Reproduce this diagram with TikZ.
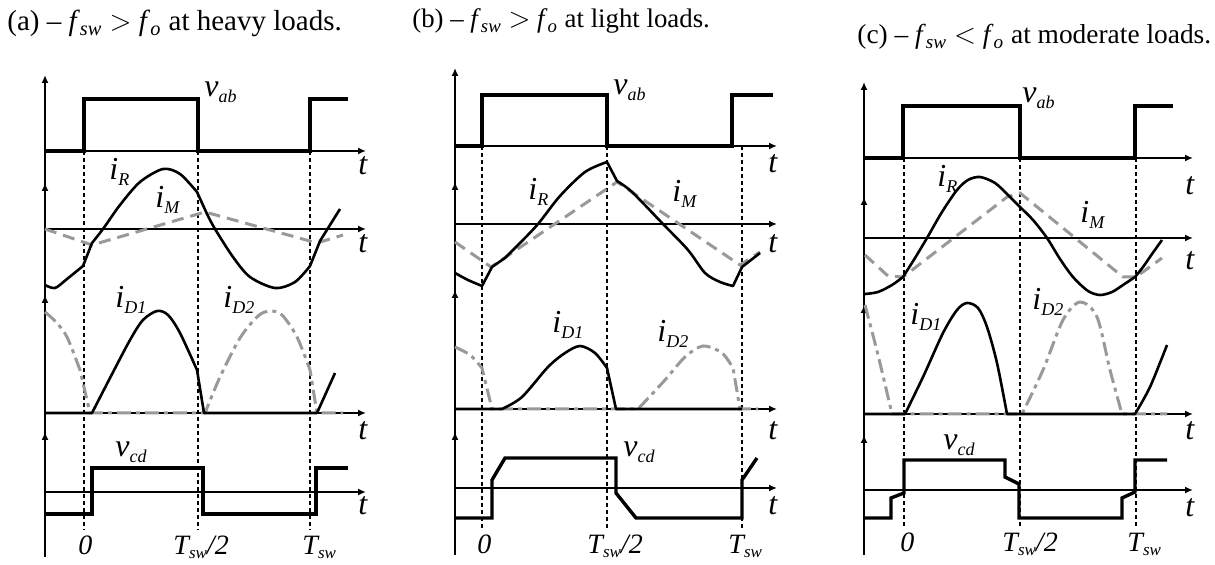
\documentclass[tikz,border=0pt]{standalone}
\usepackage{fontspec}
\setmainfont{Liberation Serif}
\usetikzlibrary{arrows.meta}
\definecolor{gry}{gray}{0.6}
\newcommand{\sg}[2]{\textit{#1}\raisebox{-3pt}{\fontsize{9}{10}\selectfont\textit{#2}}}
\newcommand{\tsw}{\textit{T}\kern-0.8pt\raisebox{-2pt}{\fontsize{8.5}{10}\selectfont\textit{sw}}}
\begin{document}
\begin{tikzpicture}[x=0.5pt,y=-0.5pt,
  ax/.style={line width=0.9pt,-{Latex[length=4pt,width=3.5pt]}},
  sq/.style={line width=1.7pt,line join=miter},
  cur/.style={line width=1.3pt,line join=round},
  mag/.style={line width=1.5pt,color=gry,dash pattern=on 6pt off 3.5pt},
  dd/.style={line width=1.5pt,color=gry,dash pattern=on 7pt off 2.5pt on 2pt off 2.5pt},
  grd/.style={line width=0.55pt,dash pattern=on 2pt off 1.5pt},
  lab/.style={font=\fontsize{16}{18}\selectfont,inner sep=0pt,anchor=base west},
  blab/.style={font=\fontsize{14}{16}\selectfont,inner sep=0pt,anchor=base west},
  ttl/.style={inner sep=0pt,anchor=base west}]
\useasboundingbox (0,0) rectangle (1215,565);
% ================= titles
\node[ttl,font=\fontsize{14.5}{17}\selectfont] (ta) at (7,31) {(a) -- \textit{f}\textsubscript{\textit{sw}} $>$ \textit{f}\textsubscript{\textit{o}} at heavy loads.};
\node[ttl,font=\fontsize{13.4}{16}\selectfont] (tb) at (412,28) {(b) -- \textit{f}\textsubscript{\textit{sw}} $>$ \textit{f}\textsubscript{\textit{o}} at light loads.};
\node[ttl,font=\fontsize{13.7}{16}\selectfont] (tc) at (857,44) {(c) -- \textit{f}\textsubscript{\textit{sw}} $<$ \textit{f}\textsubscript{\textit{o}} at moderate loads.};
% ================= panel (a)
\draw[ax] (45,557) -- (45,75);
\draw[ax] (45,200) -- (45,183);
\draw[ax] (45,312) -- (45,295);
\draw[ax] (45,450) -- (45,432);
\draw[ax] (45,151) -- (366,151);
\draw[ax] (45,229) -- (366,229);
\draw[ax] (45,413) -- (366,413);
\draw[ax] (45,492) -- (366,492);
\foreach \x in {84,198,310} \draw[grd] (\x,151) -- (\x,530);
\draw[sq] (45,151) -- (84,151) -- (84,99) -- (198,99) -- (198,151) -- (310,151) -- (310,99) -- (348,99);
\draw[mag] (45,229) -- (92,245) -- (205,212) -- (317,243) -- (343,235);
\draw[cur] plot[smooth] coordinates {(45,285) (55,288) (67,279) (83,266)} -- (92,243)
  -- plot[smooth] coordinates {(92,243) (103,229) (120,205) (140,182) (163,169) (180,174) (197,192)} -- (207,214)
  -- plot[smooth] coordinates {(207,214) (215,229) (233,257) (250,277) (275,288) (295,282) (310,266)} -- (320,241)
  -- plot[smooth] coordinates {(320,241) (330,225) (340,209)};
\draw[dd] plot[smooth] coordinates {(45,312) (56,322) (67,337) (80,370)} -- (90,413) -- (205,413)
  -- plot[smooth] coordinates {(205,413) (220,377) (240,338) (258,316) (270,311) (282,315) (297,337) (310,370)} -- (317,413) -- (343,413);
\draw[cur] (45,413) -- (92,413)
  -- plot[smooth] coordinates {(92,413) (110,378) (130,340) (143,320) (157,311) (168,315) (180,333) (197,370)} -- (204,413) -- (317,413) -- (335,373);
\draw[sq] (45,514) -- (92,514) -- (92,468) -- (203,468) -- (203,514) -- (316,514) -- (316,468) -- (348,468);
\node[lab] (avab) at (204,97) {\sg{v}{ab}};
\node[lab] (aiR) at (109,180) {\sg{i}{R}};
\node[lab] (aiM) at (155,208) {\sg{i}{M}};
\node[lab] (aiD1) at (115,308) {\sg{i}{D1}};
\node[lab] (aiD2) at (223,308) {\sg{i}{D2}};
\node[lab] (avcd) at (115,457) {\sg{v}{cd}};
\foreach \y/\n in {175/1,253/2,440/3,515/4} \node[lab] (at\n) at (358,\y) {\textit{t}};
\node[blab] (a0) at (78,555) {\textit{0}};
\node[blab] (aT2) at (173,555) {\tsw\textit{/2}};
\node[blab] (aT) at (302,555) {\tsw};
% ================= panel (b)
\draw[ax] (455,555) -- (455,68);
\draw[ax] (455,199) -- (455,182);
\draw[ax] (455,307) -- (455,290);
\draw[ax] (455,449) -- (455,432);
\draw[ax] (455,146) -- (777,146);
\draw[ax] (455,224) -- (777,224);
\draw[ax] (455,409) -- (777,409);
\draw[ax] (455,488) -- (777,488);
\foreach \x in {482,607,742} \draw[grd] (\x,146) -- (\x,528);
\draw[sq] (455,146) -- (482,146) -- (482,95) -- (607,95) -- (607,146) -- (732,146) -- (732,95) -- (773,95);
\draw[mag] (455,242) -- (491,267) -- (617,182) -- (740,265) -- (760,252);
\draw[cur] plot[smooth] coordinates {(455,273) (468,280) (482,286)} -- (492,267) -- (505,258)
  -- plot[smooth] coordinates {(505,258) (520,243) (538,224) (560,196) (585,172) (607,162)} -- (617,181)
  -- plot[smooth] coordinates {(617,181) (632,192) (663,224) (688,250) (705,273) (720,282) (733,286)} -- (742,267) -- (760,253);
\draw[dd] plot[smooth] coordinates {(455,347) (470,355) (482,368)} -- (492,409) -- (638,409)
  -- plot[smooth] coordinates {(638,409) (665,380) (685,357) (703,346) (722,353) (733,368)} -- (740,409) -- (758,409);
\draw[cur] (455,409) -- (502,409)
  -- plot[smooth] coordinates {(502,409) (522,397) (548,367) (565,353) (580,346) (595,353) (607,368)} -- (616,409) -- (742,409);
\draw[sq] (455,518) -- (492,518) -- (492,480) -- (505,458) -- (616,458) -- (616,493) -- (636,518) -- (742,518) -- (742,480) -- (757,458);
\node[lab] (bvab) at (613,95) {\sg{v}{ab}};
\node[lab] (biR) at (528,200) {\sg{i}{R}};
\node[lab] (biM) at (672,202) {\sg{i}{M}};
\node[lab] (biD1) at (552,333) {\sg{i}{D1}};
\node[lab] (biD2) at (657,342) {\sg{i}{D2}};
\node[lab] (bvcd) at (623,457) {\sg{v}{cd}};
\foreach \y/\n in {173/1,253/2,440/3,515/4} \node[lab] (bt\n) at (768,\y) {\textit{t}};
\node[blab] (b0) at (477,554) {\textit{0}};
\node[blab] (bT2) at (587,554) {\tsw\textit{/2}};
\node[blab] (bT) at (728,554) {\tsw};
% ================= panel (c)
\draw[ax] (864,555) -- (864,82);
\draw[ax] (864,214) -- (864,197);
\draw[ax] (864,322) -- (864,305);
\draw[ax] (864,452) -- (864,435);
\draw[ax] (864,158) -- (1193,158);
\draw[ax] (864,238) -- (1193,238);
\draw[ax] (864,414) -- (1193,414);
\draw[ax] (864,490) -- (1193,490);
\foreach \x in {904,1020,1136} \draw[grd] (\x,158) -- (\x,528);
\draw[sq] (864,158) -- (903,158) -- (903,106) -- (1020,106) -- (1020,158) -- (1135,158) -- (1135,106) -- (1173,106);
\draw[mag] (865,255) -- (888,276) -- (903,277) -- (1007,197) -- (1020,193) -- (1123,277) -- (1136,277) -- (1162,258);
\draw[cur] plot[smooth] coordinates {(865,294) (878,292) (892,285) (903,277)}
  -- plot[smooth] coordinates {(903,277) (915,258) (927,238) (942,212) (957,190) (968,180) (980,177) (995,183) (1008,195) (1020,207) (1033,220) (1047,238) (1060,259) (1073,277) (1088,291) (1100,295) (1112,292) (1123,285) (1135,277)}
  -- plot[smooth] coordinates {(1135,277) (1143,267) (1152,254) (1162,240)};
\draw[dd] plot[smooth] coordinates {(865,305) (878,355) (892,414)} -- (1022,414)
  -- plot[smooth] coordinates {(1022,414) (1043,370) (1063,320) (1080,302) (1097,317) (1110,370) (1122,414)} -- (1167,414);
\draw[cur] (864,414) -- (905,414)
  -- plot[smooth] coordinates {(905,414) (923,377) (943,333) (957,310) (967,303) (978,308) (987,327) (997,363) (1007,414)} -- (1135,414)
  -- plot[smooth] coordinates {(1135,414) (1150,387) (1167,345)};
\draw[sq] (864,518) -- (891,518) -- (891,498) -- (904,493) -- (904,460) -- (1005,460) -- (1005,477) -- (1019,484) -- (1019,518) -- (1122,518) -- (1122,498) -- (1135,492) -- (1135,460) -- (1167,460);
\node[lab] (cvab) at (1022,103) {\sg{v}{ab}};
\node[lab] (ciR) at (937,187) {\sg{i}{R}};
\node[lab] (ciM) at (1080,223) {\sg{i}{M}};
\node[lab] (ciD1) at (910,325) {\sg{i}{D1}};
\node[lab] (ciD2) at (1032,310) {\sg{i}{D2}};
\node[lab] (cvcd) at (943,450) {\sg{v}{cd}};
\foreach \y/\n in {195/1,270/2,440/3,517/4} \node[lab] (ct\n) at (1185,\y) {\textit{t}};
\node[blab] (c0) at (900,552) {\textit{0}};
\node[blab] (cT2) at (1002,552) {\tsw\textit{/2}};
\node[blab] (cT) at (1127,552) {\tsw};
\end{tikzpicture}
\end{document}
